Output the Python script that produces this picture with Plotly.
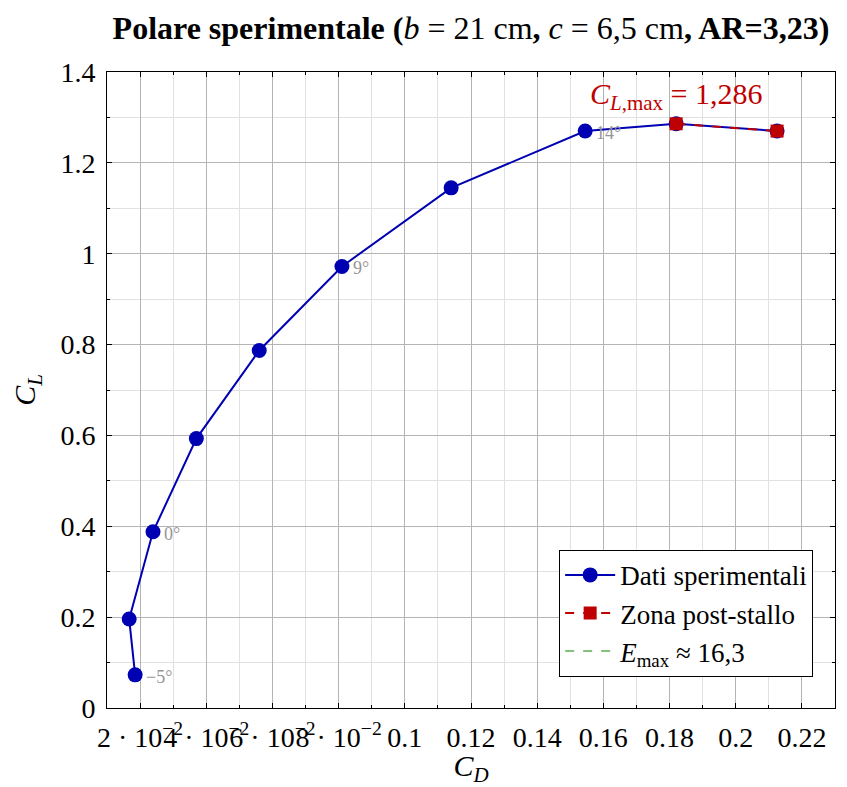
import plotly.graph_objects as go

# Data
cd = [0.0185, 0.0167, 0.0239, 0.0370, 0.0560, 0.0810, 0.1140, 0.1545, 0.1820, 0.2125]
cl = [0.073, 0.196, 0.388, 0.593, 0.787, 0.972, 1.145, 1.270, 1.286, 1.270]
post_cd = [0.1820, 0.2125]
post_cl = [1.286, 1.270]
angle_idx = [0, 2, 5, 7]
angle_txt = ["\u22125°", "0°", "9°", "14°"]

xtick_vals = [0.02, 0.04, 0.06, 0.08, 0.10, 0.12, 0.14, 0.16, 0.18, 0.20, 0.22]
xtick_text = ["2 · 10<sup>\u22122</sup>", "4 · 10<sup>\u22122</sup>", "6 · 10<sup>\u22122</sup>",
              "8 · 10<sup>\u22122</sup>", "0.1", "0.12", "0.14", "0.16", "0.18", "0.2", "0.22"]
ytick_vals = [0, 0.2, 0.4, 0.6, 0.8, 1.0, 1.2, 1.4]
ytick_text = ["0", "0.2", "0.4", "0.6", "0.8", "1", "1.2", "1.4"]

FONT = "Liberation Serif"
BLUE = "rgb(0,0,179)"
RED = "rgb(191,0,0)"
GREEN = "rgb(90,175,80)"

fig = go.Figure()
fig.add_trace(go.Scatter(x=cd, y=cl, mode="lines+markers", name="Dati sperimentali",
                         line=dict(color=BLUE, width=2),
                         marker=dict(symbol="circle", size=15, color=BLUE)))
fig.add_trace(go.Scatter(x=post_cd, y=post_cl, mode="lines+markers", name="Zona post-stallo",
                         line=dict(color=RED, width=2, dash="dash"),
                         marker=dict(symbol="square", size=13, color=RED)))
fig.add_trace(go.Scatter(x=[None], y=[None], mode="lines",
                         name="<i>E</i><sub>max</sub> ≈ 16,3",
                         line=dict(color=GREEN, width=1.5, dash="dash")))

for i, t in zip(angle_idx, angle_txt):
    fig.add_annotation(x=cd[i], y=cl[i], text=t, showarrow=False, xanchor="left",
                       xshift=9, yshift=-2, font=dict(family=FONT, size=18, color="rgb(150,150,150)"))

fig.add_annotation(x=post_cd[0], y=post_cl[0], text="<i>C</i><sub><i>L</i>,max</sub> = 1,286",
                   showarrow=False, yshift=28, font=dict(family=FONT, size=30, color=RED))

axis_common = dict(showline=True, linecolor="black", linewidth=1, mirror="ticks",
                   ticks="inside", ticklen=5, tickcolor="black", automargin=False,
                   showgrid=True, gridcolor="rgb(180,180,180)", gridwidth=1,
                   zeroline=False, tickfont=dict(family=FONT, size=28, color="black"))

fig.update_xaxes(range=[0.01, 0.23], tickvals=xtick_vals, ticktext=xtick_text, tickangle=0,
                 ticklabelstandoff=4,
                 minor=dict(dtick=0.01, showgrid=True, gridcolor="rgb(225,225,225)",
                            ticks="inside", ticklen=3, tickcolor="black"),
                 title=dict(text="<i>C</i><sub><i>D</i></sub>", font=dict(family=FONT, size=30)),
                 **axis_common)
fig.update_yaxes(range=[0, 1.4], tickvals=ytick_vals, ticktext=ytick_text,
                 ticklabelstandoff=5,
                 minor=dict(dtick=0.1, showgrid=True, gridcolor="rgb(225,225,225)",
                            ticks="inside", ticklen=3, tickcolor="black"),
                 title=dict(text="<i>C</i><sub><i>L</i></sub>", font=dict(family=FONT, size=30)),
                 **axis_common)

fig.update_layout(
    width=847, height=787,
    margin=dict(l=107, r=12, t=72, b=79),
    plot_bgcolor="white", paper_bgcolor="white",
    font=dict(family=FONT, color="black"),
    title=dict(text="<b>Polare sperimentale (</b><i>b</i> = 21 cm<b>, </b><i>c</i> = 6,5 cm<b>, AR=3,23)</b>",
               x=0.556, xanchor="center", y=0.965, yanchor="middle",
               font=dict(family=FONT, size=32, color="black")),
    legend=dict(x=0.97, y=0.049, xanchor="right", yanchor="bottom",
                bgcolor="white", bordercolor="black", borderwidth=1,
                font=dict(family=FONT, size=27, color="black"),
                tracegroupgap=0, itemwidth=50),
    showlegend=True,
)

fig.write_html("out.html")
